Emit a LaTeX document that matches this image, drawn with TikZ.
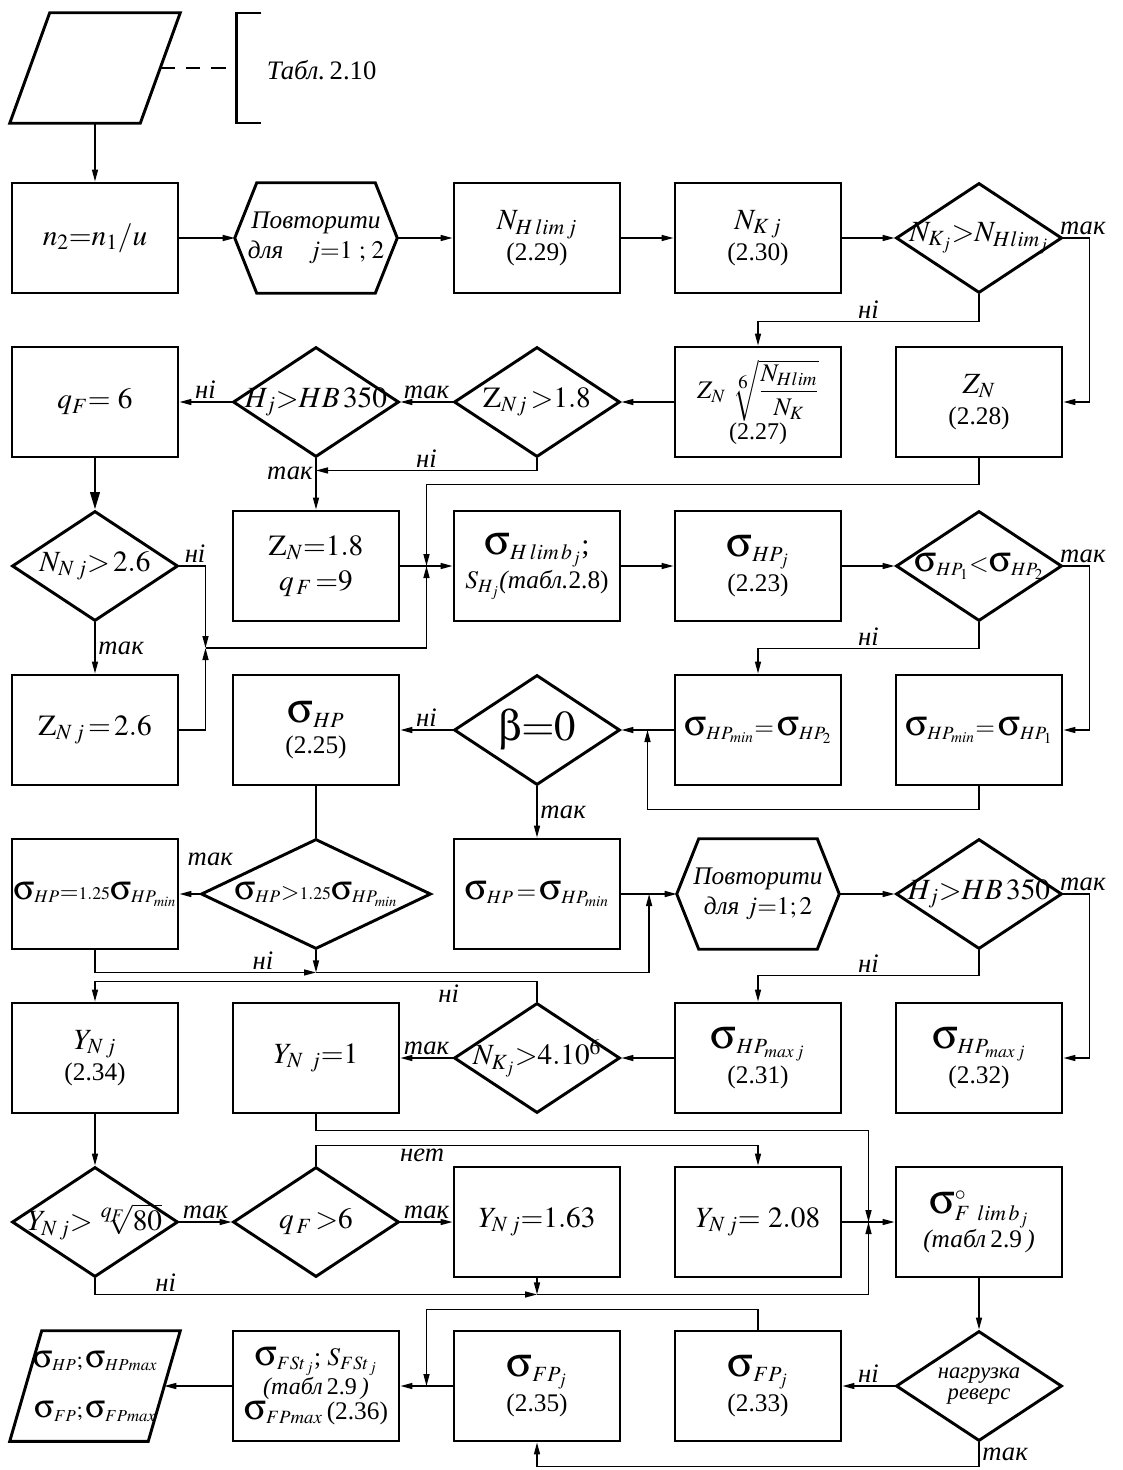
\documentclass[tikz,border=0pt]{standalone}
\usepackage{amsmath}
\usepackage{mathptmx}
\usepackage[Symbol]{upgreek}
\usepackage[no-math]{fontspec}
\setmainfont{Liberation Serif}
\usetikzlibrary{shapes.geometric,arrows.meta,positioning,calc}

% font sizes used in the chart
\newcommand{\fsmain}{\fontsize{22}{26}\selectfont}
\newcommand{\fsnum}{\fontsize{19}{22}\selectfont}
\newcommand{\fslbl}{\fontsize{20}{22}\selectfont\itshape}
\newcommand{\fsloop}{\fontsize{19}{22}\selectfont\itshape}
\newcommand{\sg}{\mathord{\scalebox{1.45}{$\upsigma$}}}
\newcommand{\dtext}[1]{\makebox[0pt]{#1}}
% outlines drawn round plain rectangle nodes
\newcommand{\hexline}[1]{\draw[shapeline] (#1.west) -- ($(#1.north west)+(22,0)$) -- ($(#1.north east)+(-22,0)$) -- (#1.east) -- ($(#1.south east)+(-22,0)$) -- ($(#1.south west)+(22,0)$) -- cycle;}
\newcommand{\paraline}[2]{\draw[shapeline] ($(#1.north west)+(#2,0)$) -- (#1.north east) -- ($(#1.south east)+(-#2,0)$) -- (#1.south west) -- cycle;}

\begin{document}
\begin{tikzpicture}[
    x=0.75pt, y=-0.75pt,
    on grid,
    node distance=123pt and 165.75pt,
    box/.style={rectangle, draw, line width=2.2pt, minimum width=124.5pt, minimum height=82.5pt, inner sep=1pt, align=center, font=\fsmain},
    choice/.style={diamond, draw, line width=2.2pt, minimum width=124.5pt, minimum height=82.5pt, inner sep=0pt, font=\fsmain},
    loopbox/.style={rectangle, minimum width=121.5pt, minimum height=82.5pt, inner sep=0pt, align=center, font=\fsloop},
    iobox/.style={rectangle, minimum width=127.5pt, minimum height=82.5pt, inner sep=0pt, align=center, font=\fsmain},
    shapeline/.style={line width=2.2pt},
    arrow/.style={-{Triangle[length=9pt,width=4.5pt]}, line width=1.1pt},
    bigarrow/.style={-{Triangle[length=13pt,width=7pt]}, line width=2pt},
    line/.style={line width=1.1pt},
    lbl/.style={font=\fslbl, inner sep=2pt}
]
\useasboundingbox[fill=white] (0,0) rectangle (1122,1470);

% row 1
\node[box] (n2) at (95,238) {$n_{2}{=}n_{1}/u$};
\node[loopbox, right=of n2] (rep1) {Повторити\\для\quad $j{=}1\ ;\,2$};
\hexline{rep1}
\node[box, right=of rep1] (nhlim) {$N_{H\,lim\,j}$\\[-3pt]{\fsnum(2.29)}};
\node[box, right=of nhlim] (nk) {$N_{K\,j}$\\[-3pt]{\fsnum(2.30)}};
\node[choice, right=of nk] (dnk) {\dtext{$N_{K_j}{>}N_{Hlim_j}$}};

% input data and the table it comes from
\node[iobox, above=127.5pt of n2] (inp) {};
\paraline{inp}{40}
\coordinate (brk) at ($(inp.east)+(56,0)$);
\draw[shapeline] ($(brk)+(25,-55)$) -- ($(brk)+(0,-55)$) -- ($(brk)+(0,55)$) -- ($(brk)+(25,55)$);
\node[anchor=west, font=\fontsize{20}{22}\selectfont] (tabl) at ($(brk)+(26,2)$) {\textit{Табл.}\,2.10};

% row 2
\node[box, below=of n2] (qf6) {$q_F{=}\ 6$};
\node[choice, below=of rep1] (dhb1) {\dtext{$H_j{>}HB\,350$}};
\node[choice, below=of nhlim] (dzn) {\dtext{$\mathrm{Z}_{Nj}\,{>}1.8$}};
\node[box, below=of nk, font=\fontsize{19}{22}\selectfont] (zn27) {$Z_N\;\sqrt[\scriptstyle 6]{\dfrac{N_{Hlim}}{N_K}}$\\[0pt]{\fontsize{18}{20}\selectfont(2.27)}};
\node[box, below=of dnk] (zn28) {$Z_N$\\[-3pt]{\fsnum(2.28)}};

% row 3
\node[choice, below=of qf6] (dnn) {\dtext{$N_{N\,j}{>}\,2.6$}};
\node[box, below=of dhb1] (zn18) {$\mathrm{Z}_N{=}1.8$\\$q_{\,F}\,{=}9$};
\node[box, below=of dzn] (shlim) {$\sg_{H\,lim\,b_j}$;\\{\fontsize{19}{22}\selectfont$S_{H_j}$\textit{(табл.}2.8)}};
\node[box, below=of zn27] (shp) {$\sg_{HP_j}$\\{\fsnum(2.23)}};
\node[choice, below=of zn28, font=\fontsize{19}{24}\selectfont] (dshp) {\dtext{$\sg_{HP_1}{<}\sg_{HP_2}$}};

% row 4
\node[box, below=of dnn] (znj) {$\mathrm{Z}_{N\,j}\,{=}\,2.6$};
\node[box, below=of zn18] (shp25) {$\sg_{HP}$\\[-3pt]{\fsnum(2.25)}};
\node[choice, below=of shlim, font=\fontsize{32}{36}\selectfont] (dbeta) {\dtext{$\upbeta{=}0$}};
\node[box, below=of shp, font=\fontsize{19}{22}\selectfont] (smin2) {$\sg_{HP_{min}}{=}\,\sg_{HP_2}$};
\node[box, below=of dshp, font=\fontsize{19}{22}\selectfont] (smin1) {$\sg_{HP_{min}}{=}\,\sg_{HP_1}$};

% row 5
\node[box, below=of znj, font=\fontsize{18}{22}\selectfont] (s125) {$\sg_{HP}{=}{\scriptstyle 1.25}\sg_{HP_{min}}$};
\node[choice, minimum width=172.5pt, below=of shp25, font=\fontsize{18}{22}\selectfont] (d125) {\dtext{$\sg_{HP}{>}{\scriptstyle 1.25}\sg_{HP_{min}}$}};
\node[box, below=of dbeta, font=\fontsize{19}{22}\selectfont] (shpmin) {$\sg_{HP}{\,=\,}\sg_{HP_{min}}$};
\node[loopbox, below=of smin2] (rep2) {Повторити\\для $j{=}1;2$};
\hexline{rep2}
\node[choice, below=of smin1] (dhb2) {\dtext{$H_j{>}HB\,350$}};

% row 6
\node[box, below=of s125] (ynj) {$Y_{N\,j}$\\[-3pt]{\fsnum(2.34)}};
\node[box, below=of d125] (yn1) {$Y_{N\ j}{=}1$};
\node[choice, below=of shpmin] (dnk6) {\dtext{$N_{K_j}{>}4.10^6$}};
\node[box, below=of rep2] (smax31) {$\sg_{HP_{max\,j}}$\\{\fsnum(2.31)}};
\node[box, below=of dhb2] (smax32) {$\sg_{HP_{max\,j}}$\\{\fsnum(2.32)}};

% row 7
\node[choice, below=of ynj] (dyn) {\dtext{$Y_{N\,j}{>}\sqrt[\scriptstyle q_F]{80}$}};
\node[choice, below=of yn1] (dqf) {\dtext{$q_{\,F}\,{>}6$}};
\node[box, below=of dnk6] (y163) {$Y_{N\,j}{=}1.63$};
\node[box, below=of smax31] (y208) {$Y_{N\,j}{=}\ 2.08$};
\node[box, below=of smax32] (sflim) {$\sg^{\circ}_{F\ lim\,b_j}$\\{\fsnum\itshape(табл\,\upshape2.9\itshape\,)}};

% row 8
\node[iobox, below=of dyn, font=\fontsize{17}{20}\selectfont] (outp) {$\sg_{HP};\sg_{HPmax}$\\[18pt]$\sg_{FP};\sg_{FPmax}$};
\paraline{outp}{32}
\node[box, below=of dqf, font=\fontsize{19}{19}\selectfont] (sfst) {$\sg_{FSt_{\,j}}$;\ $S_{FSt_{\,j}}$\\{\fontsize{18}{19}\selectfont\itshape(табл\,\upshape2.9\itshape\,)}\\$\sg_{FPmax}$\,(2.36)};
\node[box, below=of y163] (sfp35) {$\sg_{FP_j}$\\{\fsnum(2.35)}};
\node[box, below=of y208] (sfp33) {$\sg_{FP_j}$\\{\fsnum(2.33)}};
\node[choice, below=of sflim, font=\fontsize{17}{17}\selectfont\itshape] (drev) {\dtext{\shortstack{нагрузка\\[1pt]реверс}}};

% junctions where branches meet
\coordinate (j0) at ($(dhb1.south)+(0,12)$);
\coordinate (j1) at ($(zn18.east)!0.5!(shlim.west)$);
\coordinate (j2a) at ($(dnn.east)!0.5!(zn18.west)$);
\coordinate (j2b) at ($(dnn.south)!0.5!(znj.north)$);
\coordinate (j2) at (j2a |- j2b);
\coordinate (j3) at ($(dbeta.east)!0.5!(smin2.west)$);
\coordinate (j4) at ($(d125.south)+(0,22)$);
\coordinate (j5) at ($(shpmin.east)!0.5!(rep2.west)$);
\coordinate (j6) at ($(y208.east)!0.5!(sflim.west)$);
\coordinate (j7) at ($(y163.south)+(0,16)$);
\coordinate (j8) at ($(sfst.east)!0.5!(sfp35.west)$);
\coordinate (oin) at ($(outp.east)+(-16,0)$);

% connectors
\draw[arrow] (inp.south) -- (n2.north);
\draw[line, dash pattern=on 11pt off 8pt] ($(inp.east)+(-20,0)$) -- (brk);

\draw[arrow] (n2) -- (rep1);
\draw[arrow] (rep1) -- (nhlim);
\draw[arrow] (nhlim) -- (nk);
\draw[arrow] (nk) -- (dnk);
\draw[arrow] (dnk.east) -- ++(26,0) node[lbl, above, xshift=-5pt] {так} |- (zn28.east);
\draw[arrow] (dnk.south) -- ++(0,27) -| node[lbl, above, pos=0.25] {ні} (zn27.north);

\draw[arrow] (zn27) -- (dzn);
\draw[arrow] (dzn) -- node[lbl, above] {так} (dhb1);
\draw[arrow] (dhb1) -- node[lbl, above] {ні} (qf6);
\draw[arrow] (dzn.south) |- node[lbl, above, pos=0.75] {ні} (j0);
\draw[arrow] (dhb1) -- node[lbl, left, pos=0.3] {так} (zn18);
\draw[arrow] (zn28.south) -- ++(0,26) -| (j1);

\draw[bigarrow] (qf6) -- (dnn);
\draw[arrow] (dnn.east) -| node[lbl, above, pos=0.3] {ні} (j2);
\draw[arrow] (znj.east) -| (j2);
\draw[arrow] (j2) -| (j1);
\draw[arrow] (dnn) -- node[lbl, right] {так} (znj);
\draw[arrow] (zn18) -- (shlim);
\draw[arrow] (shlim) -- (shp);
\draw[arrow] (shp) -- (dshp);
\draw[arrow] (dshp.east) -- ++(26,0) node[lbl, above, xshift=-5pt] {так} |- (smin1.east);
\draw[arrow] (dshp.south) -- ++(0,26) -| node[lbl, above, pos=0.25] {ні} (smin2.north);

\draw[arrow] (smin2) -- (dbeta);
\draw[arrow] (smin1.south) -- ++(0,23) -| (j3);
\draw[arrow] (dbeta) -- node[lbl, above] {ні} (shp25);
\draw[arrow] (dbeta) -- node[lbl, right] {так} (shpmin);
\draw[line] (shp25) -- (d125);

\draw[arrow] (d125) -- node[lbl, above, pos=0, xshift=8pt, yshift=19pt] {так} (s125);
\draw[arrow] (d125.south) -- (j4);
\draw[arrow] (s125.south) |- node[lbl, above, pos=0.88] {ні} (j4);
\draw[arrow] (j4) -| (j5);
\draw[arrow] (shpmin) -- (rep2);
\draw[arrow] (rep2) -- (dhb2);
\draw[arrow] (dhb2.east) -- ++(26,0) node[lbl, above, xshift=-5pt] {так} |- (smax32.east);
\draw[arrow] (dhb2.south) -- ++(0,25) -| node[lbl, above, pos=0.25] {ні} (smax31.north);

\draw[arrow] (smax31) -- (dnk6);
\draw[arrow] (dnk6) -- node[lbl, above] {так} (yn1);
\draw[arrow] (dnk6.north) -- ++(0,-20) -| node[lbl, below, pos=0.1] {ні} (ynj.north);
\draw[arrow] (yn1.south) -- ++(0,16) -| (j6);
\draw[arrow] (ynj) -- (dyn);

\draw[arrow] (dyn) -- node[lbl, above] {так} (dqf);
\draw[arrow] (dqf) -- node[lbl, above] {так} (y163);
\draw[arrow] (dqf.north) -- ++(0,-20) -| node[lbl, below, pos=0.12] {нет} (y208.north);
\draw[arrow] (y208) -- (sflim);
\draw[arrow] (y163) -- (j7);
\draw[arrow] (dyn.south) |- node[lbl, above, pos=0.58] {ні} (j7);
\draw[arrow] (j7) -| (j6);
\draw[arrow] (sflim) -- (drev);

\draw[arrow] (drev) -- node[lbl, above] {ні} (sfp33);
\draw[arrow] (drev.south) -- node[lbl, right] {так} ++(0,24) -| (sfp35.south);
\draw[arrow] (sfp33.north) -- ++(0,-20) -| (j8);
\draw[arrow] (sfp35) -- (sfst);
\draw[arrow] (sfst) -- (oin);

\end{tikzpicture}
\end{document}
